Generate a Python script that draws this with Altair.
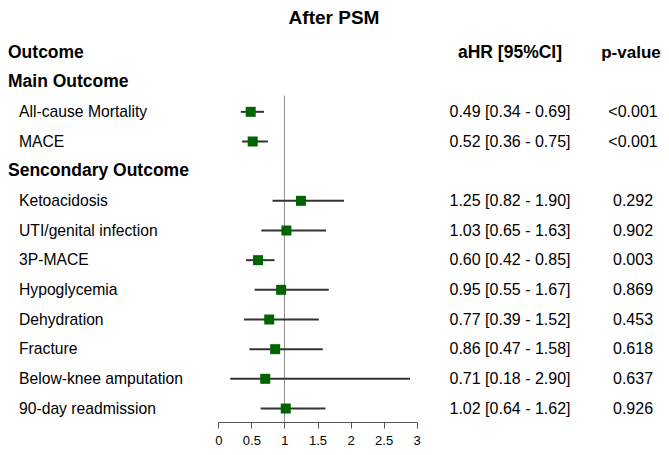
import altair as alt
import pandas as pd

# ---- data ----
outcomes = ["All-cause Mortality", "MACE", "Ketoacidosis", "UTI/genital infection",
            "3P-MACE", "Hypoglycemia", "Dehydration", "Fracture",
            "Below-knee amputation", "90-day readmission"]
rows = [2, 3, 5, 6, 7, 8, 9, 10, 11, 12]
hr = [0.49, 0.52, 1.25, 1.03, 0.60, 0.95, 0.77, 0.86, 0.71, 1.02]
lower = [0.34, 0.36, 0.82, 0.65, 0.42, 0.55, 0.39, 0.47, 0.18, 0.64]
upper = [0.69, 0.75, 1.90, 1.63, 0.85, 1.67, 1.52, 1.58, 2.90, 1.62]
pvals = ["<0.001", "<0.001", "0.292", "0.902", "0.003", "0.869", "0.453", "0.618", "0.637", "0.926"]
group_labels = ["Outcome", "Main Outcome", "Sencondary Outcome"]
group_rows = [0, 1, 4]
col_headers = ["aHR [95%CI]", "p-value"]
x_ticks = [0, 0.5, 1, 1.5, 2, 2.5, 3]

df = pd.DataFrame({
    "outcome": outcomes, "row": rows, "hr": hr, "lo": lower, "hi": upper, "p": pvals,
})
df["ci"] = [f"{h:.2f} [{l:.2f} - {u:.2f}]" for h, l, u in zip(hr, lower, upper)]
groups = pd.DataFrame({"label": group_labels, "row": group_rows})

FONT = "Liberation Sans"
CI_X = 502
P_X = 625
PH_X = 623

xscale = alt.Scale(domain=[0, 3], range=[210.3, 408.7], nice=False, zero=False)
yscale = alt.Scale(domain=[0, 12], range=[44.5, 400.5], nice=False, zero=False)
xaxis = alt.Axis(values=x_ticks, title=None, grid=False, labelFont=FONT,
                 labelFontSize=13, labelColor="#000000", domainColor="#555555",
                 tickColor="#555555", tickSize=6, labelPadding=6,
                 labelFlush=False, labelExpr="datum.value + ''")


def Y(field):
    return alt.Y(field, scale=yscale, axis=None)


def X(field):
    return alt.X(field, scale=xscale, axis=xaxis)


base = alt.Chart(df)

ref = alt.Chart(pd.DataFrame({"x": [1], "y1": [1.45], "y2": [12.45]})).mark_rule(
    color="#8c8c8c", strokeWidth=1
).encode(x=X("x:Q"), y=Y("y1:Q"), y2="y2:Q")

ci = base.mark_rule(color="#333333", strokeWidth=2).encode(
    x=X("lo:Q"), x2="hi:Q", y=Y("row:Q"),
)

pts = base.mark_square(color="#006400", size=100, opacity=1, strokeWidth=0).encode(
    x=X("hr:Q"), y=Y("row:Q"),
)

names = base.mark_text(align="left", baseline="middle", font=FONT, fontSize=15.7,
                       color="#000000").encode(
    x=alt.value(11), y=Y("row:Q"), text="outcome:N")

cis = base.mark_text(align="center", baseline="middle", font=FONT, fontSize=16,
                     color="#000000").encode(
    x=alt.value(CI_X), y=Y("row:Q"), text="ci:N")

ps = base.mark_text(align="center", baseline="middle", font=FONT, fontSize=16,
                    color="#000000").encode(
    x=alt.value(P_X), y=Y("row:Q"), text="p:N")

grp = alt.Chart(groups).mark_text(align="left", baseline="middle", font=FONT,
                                  fontSize=17.5, fontWeight="bold",
                                  color="#000000").encode(
    x=alt.value(0), y=Y("row:Q"), text="label:N")

hdr_df = pd.DataFrame({"label": col_headers, "row": [0, 0]})
hdr1 = alt.Chart(hdr_df.iloc[[0]]).mark_text(
    align="center", baseline="middle", font=FONT, fontSize=17.5, fontWeight="bold",
    color="#000000").encode(x=alt.value(CI_X), y=Y("row:Q"), text="label:N")
hdr2 = alt.Chart(hdr_df.iloc[[1]]).mark_text(
    align="center", baseline="middle", font=FONT, fontSize=17, fontWeight="bold",
    color="#000000").encode(x=alt.value(PH_X), y=Y("row:Q"), text="label:N")

title = alt.Chart(pd.DataFrame({"t": ["After PSM"]})).mark_text(
    align="center", baseline="middle", font=FONT, fontSize=19, fontWeight="bold",
    color="#000000").encode(x=alt.value(326), y=alt.value(9.5), text="t:N")

chart = alt.layer(ref, ci, pts, names, cis, ps, grp, hdr1, hdr2, title).properties(
    width=653, height=414,
    autosize=alt.AutoSizeParams(type="none"),
    padding={"left": 0, "top": 0, "right": 0, "bottom": 25},
).configure(background="white", view=alt.ViewConfig(strokeWidth=0, stroke="transparent"))

chart.save("out.html", embed_options={"renderer": "svg", "actions": False})
